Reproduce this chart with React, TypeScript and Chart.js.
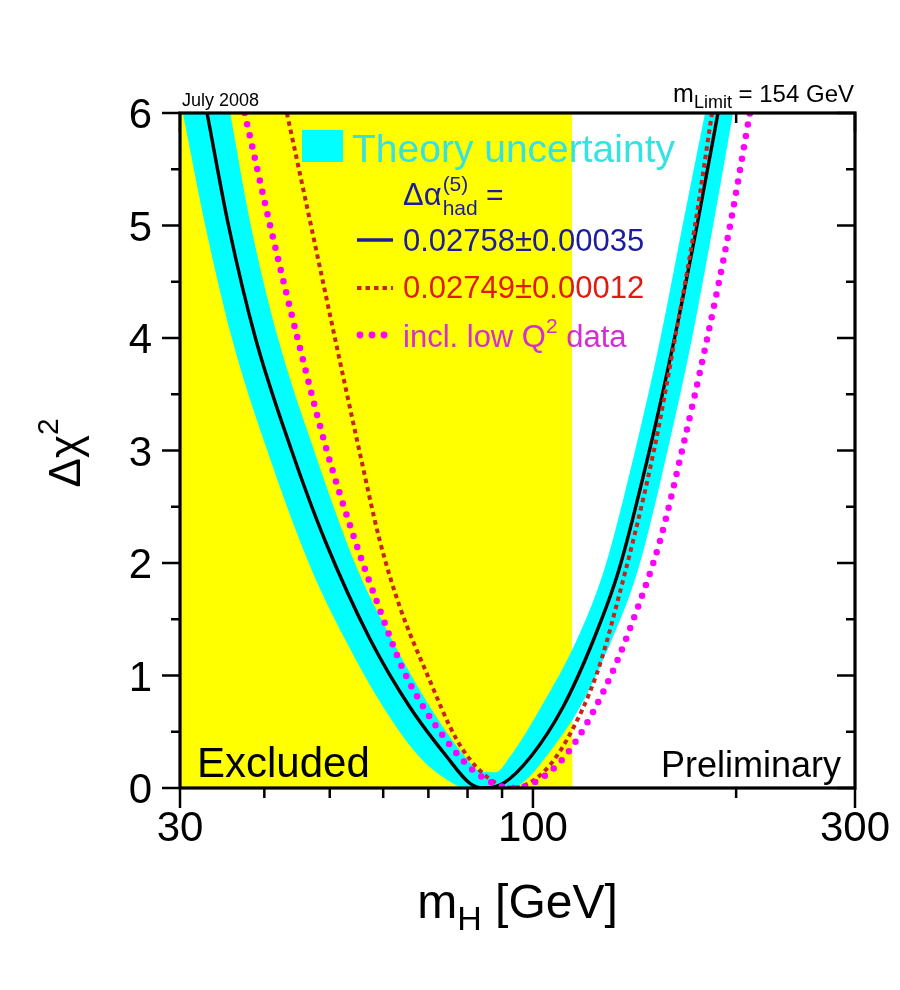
import React, { useEffect, useRef } from "react";
import { Chart, registerables } from "chart.js";

Chart.register(...registerables);

// ---------- axes ----------
const X_MIN = 30;
const X_MAX = 300;
const Y_MIN = 0;
const Y_MAX = 6;
const EXCLUDED_BELOW = 114.4; // direct-search exclusion (GeV)

const xMajorTicks = [30, 100, 300];
const xTickLabels = ["30", "100", "300"];
const xMinorTicks = [40, 50, 60, 70, 80, 90, 200];
const yMajorTicks = [0, 1, 2, 3, 4, 5, 6];
const yTickLabels = ["0", "1", "2", "3", "4", "5", "6"];
const yMinorTicks = [0.5, 1.5, 2.5, 3.5, 4.5, 5.5];

// ---------- data (m_H in GeV, delta chi^2) ----------
// theory-uncertainty band, lower Δχ² edge (outer)
const bandOuterMass = [30.3, 32.7, 35.8, 40.4, 47.0, 52.7, 60.0, 67.8, 74.3, 79.6, 92.8, 98.0, 104.6, 117.4, 130.9, 143.1, 158.3, 172.1, 184.9, 197.9];
const bandOuterChi2 = [6, 5, 4, 3, 1.94, 1.32, 0.72, 0.28, 0.08, 0, 0, 0.08, 0.28, 0.72, 1.32, 1.94, 3, 4, 5, 6];
// theory-uncertainty band, upper Δχ² edge (inner)
const bandInnerMass = [35.6, 38.2, 41.9, 47.4, 55.0, 61.8, 70.4, 79.3, 83.5, 88.0, 92.5, 102.8, 116.2, 127.5, 141.7, 154.5, 166.6, 179.9];
const bandInnerChi2 = [6, 5, 4, 3, 1.94, 1.32, 0.72, 0.28, 0.15, 0.14, 0.28, 0.72, 1.32, 1.94, 3, 4, 5, 6];
// Δα_had = 0.02758 ± 0.00035 (solid)
const fitMass = [32.9, 35.4, 38.8, 43.9, 49.2, 57.4, 65.7, 74.5, 80.7, 84.9, 90.3, 99.3, 110.8, 123.0, 134.1, 148.8, 162.1, 175.0, 188.0];
const fitChi2 = [6, 5, 4, 3, 2.2, 1.32, 0.72, 0.28, 0.04, 0, 0.04, 0.28, 0.72, 1.32, 1.94, 3, 4, 5, 6];
// Δα_had = 0.02749 ± 0.00012 (dashed)
const altMass = [43.2, 46.9, 51.1, 55.3, 59.3, 63.5, 69.6, 77.1, 84.3, 93.0, 103.2, 112.3, 124.4, 132.8, 151.1, 162.4, 173.8, 184.2];
const altChi2 = [6, 5, 3.95, 3, 2.2, 1.61, 1.02, 0.43, 0.13, 0, 0.13, 0.43, 1.02, 1.61, 3, 4, 5, 6];
// incl. low Q² data (dotted)
const lowQMass = [37.4, 40.8, 45.0, 49.5, 54.5, 59.1, 64.6, 74.3, 82.6, 93.6, 105.3, 116.2, 130.9, 143.1, 154.3, 166.3, 180.5, 195.9, 209.6];
const lowQChi2 = [6, 5, 3.95, 3, 2.2, 1.61, 1.02, 0.43, 0.13, 0, 0.13, 0.43, 1.02, 1.61, 2.2, 3, 3.95, 5, 6];

// ---------- texts ----------
const DATE_LABEL = "July 2008";
const LIMIT_VALUE = "154 GeV";
const BAND_LABEL = "Theory uncertainty";
const LEGEND_LABELS = ["0.02758\u00b10.00035", "0.02749\u00b10.00012"];
const LOWQ_LABEL = ["incl. low Q", "2", " data"];
const EXCLUDED_LABEL = "Excluded";
const PRELIM_LABEL = "Preliminary";

// ---------- colours ----------
const YELLOW = "#ffff00";
const CYAN = "#00ffff";
const CYAN_TEXT = "#35e2e2";
const NAVY = "#1c1c9c";
const RED = "#c8241a";
const RED_TEXT = "#e01c10";
const MAGENTA = "#ff00ff";
const MAGENTA_TEXT = "#d22ed2";

const FONT = '"Liberation Sans", Arial, Helvetica, sans-serif';
const font = (px: number) => `${px}px ${FONT}`;

const zip = (xs: number[], ys: number[]) => xs.map((x, i) => ({ x, y: ys[i] }));

type Run = { t: string; size: number; dy?: number };

function runsWidth(ctx: CanvasRenderingContext2D, runs: Run[]) {
  let w = 0;
  for (const r of runs) {
    ctx.font = font(r.size);
    w += ctx.measureText(r.t).width;
  }
  return w;
}

function drawRuns(ctx: CanvasRenderingContext2D, runs: Run[], x: number, y: number, color: string, align: "left" | "right" | "center" = "left") {
  const total = runsWidth(ctx, runs);
  let cx = align === "right" ? x - total : align === "center" ? x - total / 2 : x;
  ctx.textAlign = "left";
  ctx.textBaseline = "alphabetic";
  ctx.fillStyle = color;
  for (const r of runs) {
    ctx.font = font(r.size);
    ctx.fillText(r.t, cx, y + (r.dy || 0));
    cx += ctx.measureText(r.t).width;
  }
  return total;
}

const decorPlugin = {
  id: "decor",
  beforeDatasetsDraw(chart: any) {
    const ctx: CanvasRenderingContext2D = chart.ctx;
    const { left, top, bottom } = chart.chartArea;
    const xs = chart.scales.x;
    ctx.save();
    // top ticks (inward), drawn beneath the excluded region
    ctx.strokeStyle = "#000";
    ctx.lineWidth = 2.5;
    for (const v of xMajorTicks) {
      const px = xs.getPixelForValue(v);
      ctx.beginPath(); ctx.moveTo(px, top); ctx.lineTo(px, top + 19); ctx.stroke();
    }
    for (const v of xMinorTicks) {
      const px = xs.getPixelForValue(v);
      ctx.beginPath(); ctx.moveTo(px, top); ctx.lineTo(px, top + 10); ctx.stroke();
    }
    // excluded region
    const ex = xs.getPixelForValue(EXCLUDED_BELOW);
    ctx.fillStyle = YELLOW;
    ctx.fillRect(left, top, ex - left, bottom - top);
    ctx.restore();
  },
  afterDatasetsDraw(chart: any) {
    const ctx: CanvasRenderingContext2D = chart.ctx;
    const { left, right, top, bottom } = chart.chartArea;
    const xs = chart.scales.x;
    const ys = chart.scales.y;
    ctx.save();

    // frame
    ctx.strokeStyle = "#000";
    ctx.lineWidth = 3.2;
    ctx.strokeRect(left, top, right - left, bottom - top);

    // ticks
    ctx.lineWidth = 2.5;
    const seg = (x1: number, y1: number, x2: number, y2: number) => {
      ctx.beginPath(); ctx.moveTo(x1, y1); ctx.lineTo(x2, y2); ctx.stroke();
    };
    for (const v of xMajorTicks) { const px = xs.getPixelForValue(v); seg(px, bottom, px, bottom + 20); }
    for (const v of xMinorTicks) { const px = xs.getPixelForValue(v); seg(px, bottom, px, bottom + 10); }
    for (const v of yMajorTicks) { const py = ys.getPixelForValue(v); seg(left, py, left - 18, py); seg(right, py, right - 18, py); }
    for (const v of yMinorTicks) { const py = ys.getPixelForValue(v); seg(left, py, left - 9, py); seg(right, py, right - 9, py); }

    // tick labels
    ctx.fillStyle = "#000";
    ctx.font = font(42);
    ctx.textAlign = "right";
    ctx.textBaseline = "alphabetic";
    yMajorTicks.forEach((v, i) => {
      ctx.fillText(yTickLabels[i], left - 28, ys.getPixelForValue(v) + 15);
    });
    ctx.textAlign = "center";
    xMajorTicks.forEach((v, i) => {
      ctx.fillText(xTickLabels[i], xs.getPixelForValue(v), bottom + 53);
    });

    // axis titles
    drawRuns(ctx, [{ t: "m", size: 48 }, { t: "H", size: 34, dy: 12 }, { t: " [GeV]", size: 48 }], (left + right) / 2, bottom + 130, "#000", "center");
    ctx.save();
    ctx.translate(left - 100, (top + bottom) / 2 + 37);
    ctx.rotate(-Math.PI / 2);
    drawRuns(ctx, [{ t: "\u0394\u03c7", size: 44 }, { t: "2", size: 30, dy: -22 }], 0, 0, "#000", "left");
    ctx.restore();

    // header texts
    ctx.fillStyle = "#000";
    ctx.font = font(18);
    ctx.textAlign = "left";
    ctx.fillText(DATE_LABEL, left + 2, top - 7);
    drawRuns(ctx, [{ t: "m", size: 25 }, { t: "Limit", size: 18, dy: 6 }, { t: " = " + LIMIT_VALUE, size: 24 }], right - 1, top - 11, "#000", "right");

    // band legend
    ctx.fillStyle = CYAN;
    ctx.fillRect(left + 122, top + 17, 41, 32);
    drawRuns(ctx, [{ t: BAND_LABEL, size: 39 }], left + 172, top + 49, CYAN_TEXT);

    // Δα_had^(5) =
    const ax = left + 223;
    const ay = top + 92;
    const w1 = drawRuns(ctx, [{ t: "\u0394\u03b1", size: 31 }], ax, ay, NAVY);
    const w2 = drawRuns(ctx, [{ t: "(5)", size: 21 }], ax + w1 + 1, ay - 14, NAVY);
    const w3 = drawRuns(ctx, [{ t: "had", size: 21 }], ax + w1 + 1, ay + 10, NAVY);
    drawRuns(ctx, [{ t: " =", size: 30 }], ax + w1 + 1 + Math.max(w2, w3), ay, NAVY);

    // legend samples
    const sx0 = left + 177;
    const sx1 = left + 213;
    const tx = left + 223;
    ctx.strokeStyle = NAVY;
    ctx.lineWidth = 3.5;
    seg(sx0, top + 127, sx1, top + 127);
    drawRuns(ctx, [{ t: LEGEND_LABELS[0], size: 31 }], tx, top + 138, NAVY);

    ctx.strokeStyle = RED;
    ctx.lineWidth = 4;
    ctx.setLineDash([4.5, 4]);
    seg(sx0, top + 175, sx1, top + 175);
    ctx.setLineDash([]);
    drawRuns(ctx, [{ t: LEGEND_LABELS[1], size: 31 }], tx, top + 185, RED_TEXT);

    ctx.fillStyle = MAGENTA;
    for (let i = 0; i < 3; i++) {
      ctx.beginPath();
      ctx.arc(sx0 + 3 + i * 12, top + 222, 3.4, 0, Math.PI * 2);
      ctx.fill();
    }
    drawRuns(ctx, [{ t: LOWQ_LABEL[0], size: 31 }, { t: LOWQ_LABEL[1], size: 21, dy: -14 }, { t: LOWQ_LABEL[2], size: 31 }], tx, top + 234, MAGENTA_TEXT);

    // corner labels
    drawRuns(ctx, [{ t: EXCLUDED_LABEL, size: 42 }], left + 17, bottom - 11, "#000");
    drawRuns(ctx, [{ t: PRELIM_LABEL, size: 36 }], right - 14, bottom - 11, "#000", "right");

    ctx.restore();
  },
};

export default function App() {
  const ref = useRef<HTMLCanvasElement | null>(null);

  useEffect(() => {
    document.body.style.margin = "0";
    const canvas = ref.current;
    if (!canvas) return;

    const underInnerColor = (c: any) => {
      const chart = c.chart;
      const area = chart.chartArea;
      if (!area) return YELLOW;
      const px = chart.scales.x.getPixelForValue(EXCLUDED_BELOW);
      const g = chart.ctx.createLinearGradient(area.left, 0, area.right, 0);
      const t = Math.min(1, Math.max(0, (px - area.left) / (area.right - area.left)));
      g.addColorStop(0, YELLOW);
      g.addColorStop(t, YELLOW);
      g.addColorStop(Math.min(1, t + 0.0001), "#ffffff");
      g.addColorStop(1, "#ffffff");
      return g;
    };

    const common = {
      pointRadius: 0,
      pointHoverRadius: 0,
      cubicInterpolationMode: "monotone" as const,
      clip: 0,
    };

    const chart = new Chart(canvas, {
      type: "line",
      data: {
        datasets: [
          {
            ...common,
            label: "incl. low Q2 data",
            data: zip(lowQMass, lowQChi2),
            borderColor: MAGENTA,
            borderWidth: 6.5,
            borderDash: [0, 11.5],
            borderCapStyle: "round",
            fill: false,
            order: 0,
          },
          {
            ...common,
            label: "0.02749",
            data: zip(altMass, altChi2),
            borderColor: RED,
            borderWidth: 4,
            borderDash: [4.5, 4],
            fill: false,
            order: 1,
          },
          {
            ...common,
            label: "0.02758",
            data: zip(fitMass, fitChi2),
            borderColor: "#000000",
            borderWidth: 3.4,
            fill: false,
            order: 2,
          },
          {
            ...common,
            label: "band inner",
            data: zip(bandInnerMass, bandInnerChi2),
            borderColor: "rgba(0,0,0,0)",
            borderWidth: 1,
            backgroundColor: underInnerColor,
            fill: "end",
            order: 3,
          },
          {
            ...common,
            label: "band outer",
            data: zip(bandOuterMass, bandOuterChi2),
            borderColor: "rgba(0,0,0,0)",
            borderWidth: 1,
            backgroundColor: CYAN,
            fill: "end",
            order: 4,
          },
        ],
      },
      options: {
        animation: false,
        responsive: false,
        devicePixelRatio: 1,
        layout: { padding: { left: 180, right: 45, top: 113, bottom: 202 } },
        scales: {
          x: { type: "logarithmic", min: X_MIN, max: X_MAX, display: false },
          y: { type: "linear", min: Y_MIN, max: Y_MAX, display: false },
        },
        plugins: {
          legend: { display: false },
          tooltip: { enabled: false },
        },
        events: [],
      },
      plugins: [decorPlugin],
    } as any);

    return () => chart.destroy();
  }, []);

  return (
    <div style={{ width: 900, height: 990, background: "#fff" }}>
      <canvas ref={ref} width={900} height={990} style={{ display: "block" }} />
    </div>
  );
}
